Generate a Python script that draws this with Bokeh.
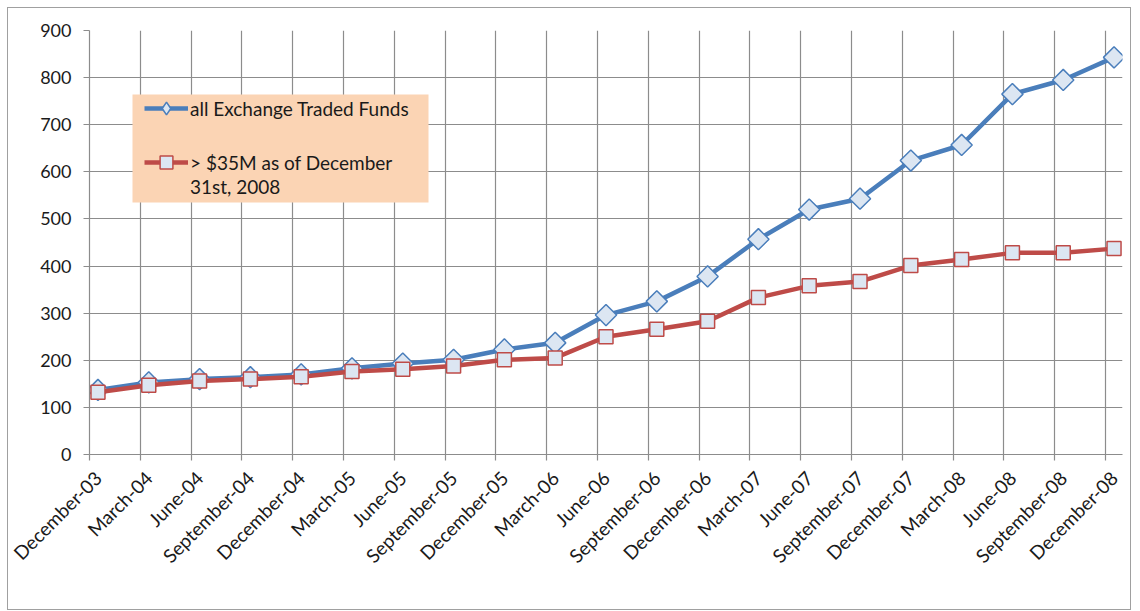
import math
from bokeh.plotting import figure
from bokeh.models import FixedTicker, Legend, LegendItem, Range1d, BoxAnnotation
from bokeh.embed import file_html
from bokeh.resources import INLINE

categories = ["December-03", "March-04", "June-04", "September-04", "December-04",
              "March-05", "June-05", "September-05", "December-05", "March-06",
              "June-06", "September-06", "December-06", "March-07", "June-07",
              "September-07", "December-07", "March-08", "June-08", "September-08",
              "December-08"]
all_etf = [137, 153, 160, 164, 170, 183, 193, 201, 223, 237, 296, 325, 378,
           457, 520, 543, 624, 657, 765, 795, 843]
over_35m = [132, 147, 156, 160, 165, 176, 181, 188, 201, 205, 250, 266, 283,
            333, 358, 367, 401, 414, 428, 428, 437]
y_ticks = [0, 100, 200, 300, 400, 500, 600, 700, 800, 900]
series_names = ["all Exchange Traded Funds", "> $35M as of December", "31st, 2008"]

# date axis in months since December 2003: ticks at quarter starts, points mid-month
tick_pos = [3 * i for i in range(len(categories))]
x_pts = [t + 0.5 for t in tick_pos]
label_shift = 0.5  # labels sit slightly right of their tick, as in the original
label_pos = [t + label_shift for t in tick_pos]

FONT = "Lato"
GRID = "#8C8C8C"
TXT = "#1a1a1a"
PEACH = "#FBD4B4"

p = figure(width=1124, height=603, output_backend="svg", toolbar_location=None,
           x_range=Range1d(0, tick_pos[-1] + 1), y_range=Range1d(y_ticks[0], y_ticks[-1]),
           min_border_left=81, min_border_right=10, min_border_top=22, min_border_bottom=157)
p.outline_line_color = None
p.background_fill_color = "white"
p.border_fill_color = "white"
p.styles = {"border": "1px solid #A0A0A0", "margin-left": "7px", "margin-top": "7px"}

xax = p.xaxis[0]
xax.ticker = FixedTicker(ticks=label_pos, minor_ticks=tick_pos)
xax.major_label_overrides = {lp: c for lp, c in zip(label_pos, categories)}
xax.major_label_orientation = math.pi / 4
xax.major_label_text_font_size = "19px"
xax.major_label_standoff = 14
xax.major_tick_line_color = None
xax.minor_tick_line_color = GRID
xax.minor_tick_line_width = 1.2
xax.minor_tick_out = 6
xax.minor_tick_in = 0

yax = p.yaxis[0]
yax.ticker = FixedTicker(ticks=y_ticks)
yax.major_tick_line_color = GRID
yax.major_tick_line_width = 1.2
yax.major_tick_out = 6
yax.major_tick_in = 0
yax.minor_tick_line_color = None
yax.major_label_text_font_size = "18px"
yax.major_label_standoff = 12

for ax in (xax, yax):
    ax.axis_line_color = GRID
    ax.axis_line_width = 1.2
    ax.major_label_text_font = FONT
    ax.major_label_text_color = TXT

p.xgrid[0].ticker = FixedTicker(ticks=tick_pos)
p.xgrid.grid_line_color = GRID
p.ygrid.grid_line_color = GRID
p.xgrid.grid_line_width = 1.2
p.ygrid.grid_line_width = 1.2

bl = p.line(x_pts, all_etf, line_color="#4A7EBB", line_width=4.5)
bm = p.scatter(x_pts, all_etf, marker="square", angle=math.pi / 4, size=15,
               fill_color="#DCE6F2", line_color="#4A7EBB", line_width=1.5)
rl = p.line(x_pts, over_35m, line_color="#BE4B48", line_width=4.5)
rm = p.scatter(x_pts, over_35m, marker="square", size=14,
               fill_color="#DCE6F2", line_color="#BE4B48", line_width=1.5)
# legend-only proxy for the diamond marker
bproxy = p.scatter(x_pts, all_etf, marker="diamond", size=14, visible=False,
                   fill_color="#DCE6F2", line_color="#4A7EBB", line_width=1.5)

# legend background box (canvas pixels)
legend_box = BoxAnnotation(left=123, right=419, top=85, bottom=193,
                           left_units="canvas", right_units="canvas",
                           top_units="canvas", bottom_units="canvas",
                           fill_color=PEACH, fill_alpha=1, line_color=None)
p.add_layout(legend_box)


def style_legend(lg, gh):
    lg.background_fill_alpha = 0
    lg.border_line_color = None
    lg.label_text_font = FONT
    lg.label_text_font_size = "19px"
    lg.label_text_color = TXT
    lg.glyph_width = 44
    lg.glyph_height = gh
    lg.label_height = 24
    lg.label_standoff = 2
    lg.padding = 0
    lg.margin = 0


legend_a = Legend(items=[LegendItem(label=series_names[0], renderers=[bl, bproxy]),
                         LegendItem(label=series_names[1], renderers=[rl, rm])],
                  location=(55, 276))
style_legend(legend_a, 32)
legend_a.spacing = 22
legend_b = Legend(items=[LegendItem(label=series_names[2], renderers=[])],
                  location=(55, 256))
style_legend(legend_b, 24)
p.add_layout(legend_a, "center")
p.add_layout(legend_b, "center")

open("out.html", "w").write(file_html(p, INLINE))
